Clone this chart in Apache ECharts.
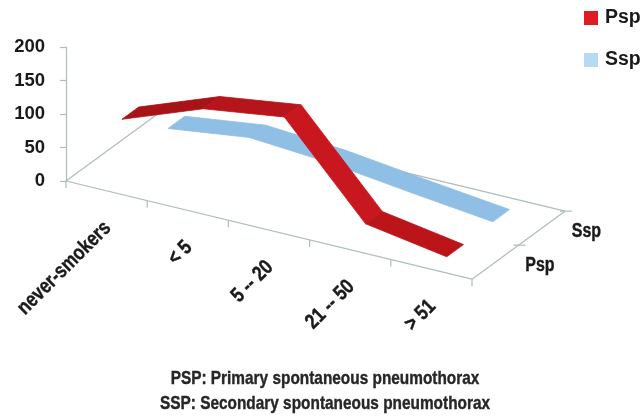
<!DOCTYPE html>
<html>
<head>
<meta charset="utf-8">
<style>
  html, body { margin: 0; padding: 0; background: #fff; }
  #chart { width: 641px; height: 417px; }
</style>
<script src="https://cdn.jsdelivr.net/npm/echarts@6/dist/echarts.min.js"></script>
</head>
<body>
<div id="chart"></div>
<script>
const categories = ["never-smokers", "< 5", "5 -- 20", "21 -- 50", "> 51"];
const depthNames = ["Psp", "Ssp"];
const pspValues = [90, 135, 152, 22, 2];
const sspValues = [26, 42, 33, 18, 4];
const valueTicks = [0, 50, 100, 150, 200];
const footnotes = ["PSP: Primary spontaneous pneumothorax", "SSP: Secondary spontaneous pneumothorax"];

// fake 3d: everything is sheared in data space, api.coord does the pixels
const catDrop = 29.3; // value units the floor falls per category
const depthRunX = 1.145; // category units per full depth
const depthRiseV = 101.5; // value units per full depth
const ribbonSpans = { Psp: [0.165, 0.345], Ssp: [0.66, 0.84] };

const pspColors = ["#a81318", "#b5151b", "#c9171f", "#bb151a"];
const sspColors = ["#8fbfe5", "#8fbfe5", "#8fbfe5", "#8fbfe5"];

const axisColor = "#aebdbb";
const labelFont = '"Liberation Sans", sans-serif';

function project(api, c, t, v) {
  return api.coord([c + t * depthRunX, v - c * catDrop + t * depthRiseV]);
}

function ribbon(values, colors, span) {
  return (params, api) => {
    const i = params.dataIndex;
    if (i >= values.length - 1) return null;
    const c0 = i + 0.5;
    const c1 = i + 1.5;
    return {
      type: "polygon",
      shape: {
        points: [
          project(api, c0, span[0], values[i]),
          project(api, c0, span[1], values[i]),
          project(api, c1, span[1], values[i + 1]),
          project(api, c1, span[0], values[i + 1]),
        ],
      },
      // thin stroke hides the antialias seam between segments
      style: { fill: colors[i], stroke: colors[i], lineWidth: 0.8 },
    };
  };
}

function line(p0, p1) {
  return {
    type: "line",
    shape: { x1: p0[0], y1: p0[1], x2: p1[0], y2: p1[1] },
    style: { stroke: axisColor, lineWidth: 1.2 },
  };
}

function renderFloor(params, api) {
  if (params.dataIndex > 0) return null;
  const n = categories.length;
  const children = [
    line(project(api, 0, 0, 0), project(api, n, 0, 0)),
    line(project(api, n, 0, 0), project(api, n, 1, 0)),
    line(project(api, 0, 0, 0), project(api, 0, 1, 0)),
    // the rest of the back edge sits behind the blue ribbon
    line(project(api, 1, 1, 0), project(api, n, 1, 0)),
  ];
  for (let c = 0; c <= n; c++) {
    const p = project(api, c, 0, 0);
    children.push(line(p, [p[0], p[1] + 7]));
  }
  depthNames.forEach((name, i) => {
    const p = project(api, n, (i + 1) / depthNames.length, 0);
    children.push(line([p[0] - 5, p[1]], [p[0] + 7, p[1]]));
    const q = project(api, n, (i + 0.5) / depthNames.length, 0);
    children.push({
      type: "text",
      x: q[0] + 30,
      y: q[1] + 3,
      scaleX: 0.8,
      style: {
        text: name,
        fill: "#1a1a1a",
        stroke: "#1a1a1a",
        lineWidth: 0.4,
        font: "bold 20px " + labelFont,
        align: "left",
        verticalAlign: "middle",
      },
    });
  });
  categories.forEach((name, i) => {
    const p = project(api, i + 0.5, 0, 0);
    children.push({
      type: "text",
      x: p[0] + 1,
      y: p[1] + 34,
      rotation: Math.PI / 4,
      scaleX: 0.82,
      style: {
        text: name,
        fill: "#1a1a1a",
        stroke: "#1a1a1a",
        lineWidth: 0.4,
        font: "bold 21px " + labelFont,
        align: "right",
        verticalAlign: "middle",
      },
    });
  });
  return { type: "group", children };
}

const chart = echarts.init(document.getElementById("chart"), null, { renderer: "canvas" });

chart.setOption({
  animation: false,
  backgroundColor: "#fff",
  graphic: footnotes.map((text, i) => ({
    type: "text",
    x: 325,
    y: 379 + i * 25,
    scaleX: 0.81,
    style: {
      text,
      fill: "#262626",
      stroke: "#262626",
      lineWidth: 0.4,
      font: "bold 19px " + labelFont,
      align: "center",
      verticalAlign: "middle",
    },
  })),
  legend: {
    orient: "vertical",
    left: 584,
    top: 8,
    padding: 0,
    itemWidth: 14,
    itemHeight: 14,
    itemGap: 22,
    icon: "rect",
    data: [
      { name: "Psp", itemStyle: { color: "#e01b24" } },
      { name: "Ssp", itemStyle: { color: "#b5daf2" } },
    ],
    textStyle: {
      fontFamily: labelFont,
      fontWeight: "bold",
      fontSize: 19.5,
      color: "#1a1a1a",
      padding: [0, 0, 0, 2],
    },
  },
  grid: { left: 66, top: 47, width: 406, height: 134 },
  xAxis: { type: "value", min: 0, max: categories.length, show: false },
  yAxis: {
    type: "value",
    min: valueTicks[0],
    max: valueTicks[valueTicks.length - 1],
    interval: 50,
    splitLine: { show: false },
    axisLine: { show: true, lineStyle: { color: axisColor, width: 1.2 } },
    axisTick: { show: true, length: 6, lineStyle: { color: axisColor, width: 1.2 } },
    axisLabel: {
      margin: 21,
      padding: [3, 0, 0, 0],
      fontFamily: labelFont,
      fontWeight: "bold",
      fontSize: 18.5,
      color: "#1a1a1a",
    },
  },
  series: [
    {
      name: "floor",
      type: "custom",
      silent: true,
      clip: false,
      z: 1,
      data: [[0, 0]],
      renderItem: renderFloor,
    },
    {
      name: "Ssp",
      type: "custom",
      clip: false,
      z: 2,
      itemStyle: { color: "#b5daf2" },
      data: sspValues.map((v, i) => [i + 0.5, v]),
      renderItem: ribbon(sspValues, sspColors, ribbonSpans.Ssp),
    },
    {
      name: "Psp",
      type: "custom",
      clip: false,
      z: 3,
      itemStyle: { color: "#e01b24" },
      data: pspValues.map((v, i) => [i + 0.5, v]),
      renderItem: ribbon(pspValues, pspColors, ribbonSpans.Psp),
    },
  ],
});
</script>
</body>
</html>
